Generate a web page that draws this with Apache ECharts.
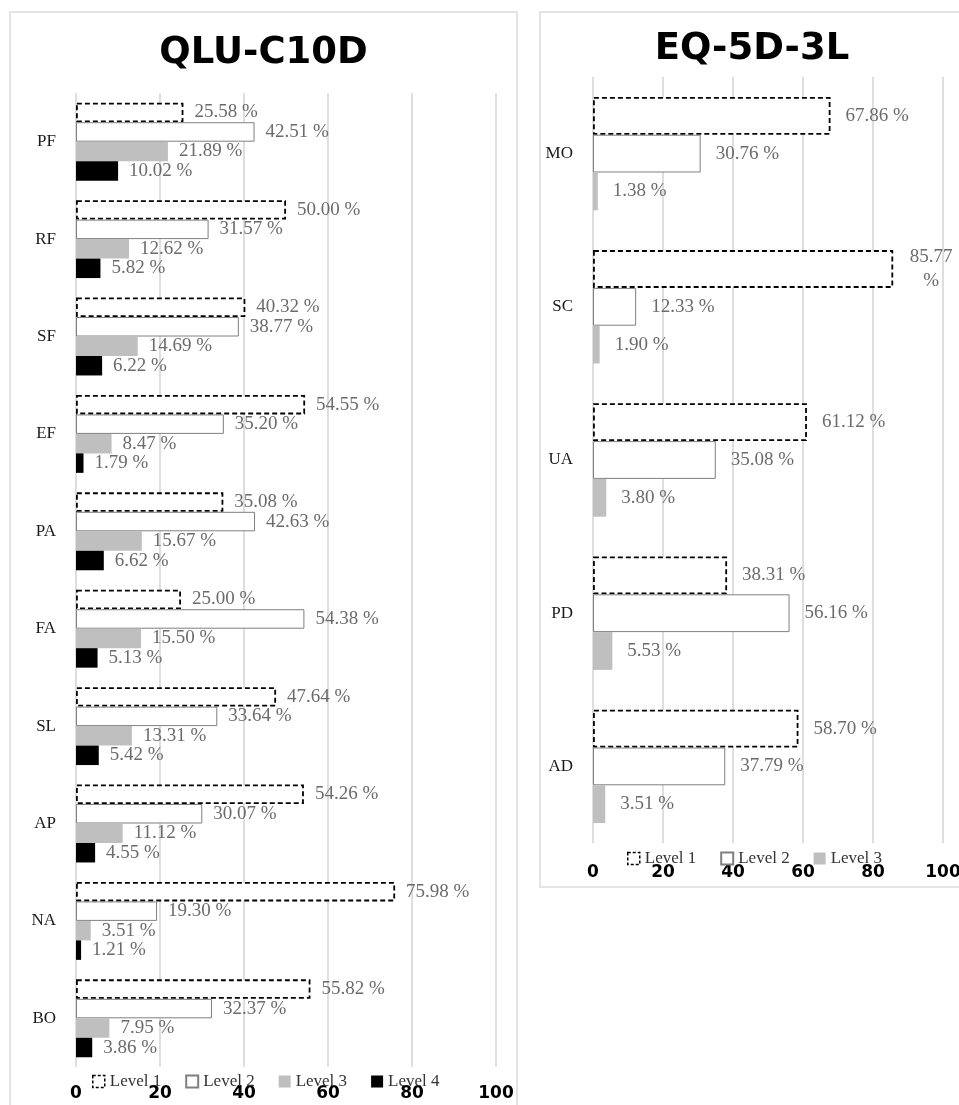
<!DOCTYPE html>
<html>
<head>
<meta charset="utf-8">
<title>QLU-C10D / EQ-5D-3L</title>
<script src="https://cdn.jsdelivr.net/npm/echarts@6/dist/echarts.min.js"></script>
<style>
  body { margin: 0; background: #fff; width: 959px; height: 1105px; overflow: hidden; position: relative; }
  .box { position: absolute; border: 2px solid #e4e4e4; box-sizing: border-box; }
  .chart { position: absolute; }
</style>
</head>
<body>
<div class="box" style="left:9px;top:11px;width:509px;height:1110px"></div>
<div class="box" style="left:539px;top:11px;width:430px;height:877px"></div>
<div id="left" class="chart" style="left:10px;top:12px;width:507px;height:1093px"></div>
<div id="right" class="chart" style="left:540px;top:12px;width:424px;height:876px"></div>

<script>
// QLU-C10D 各维度
const qluCategories = ['PF', 'RF', 'SF', 'EF', 'PA', 'FA', 'SL', 'AP', 'NA', 'BO']
const qluLevel1 = [25.58, 50.00, 40.32, 54.55, 35.08, 25.00, 47.64, 54.26, 75.98, 55.82]
const qluLevel2 = [42.51, 31.57, 38.77, 35.20, 42.63, 54.38, 33.64, 30.07, 19.30, 32.37]
const qluLevel3 = [21.89, 12.62, 14.69, 8.47, 15.67, 15.50, 13.31, 11.12, 3.51, 7.95]
const qluLevel4 = [10.02, 5.82, 6.22, 1.79, 6.62, 5.13, 5.42, 4.55, 1.21, 3.86]

// EQ-5D-3L 各维度
const eqCategories = ['MO', 'SC', 'UA', 'PD', 'AD']
const eqLevel1 = [67.86, 85.77, 61.12, 38.31, 58.70]
const eqLevel2 = [30.76, 12.33, 35.08, 56.16, 37.79]
const eqLevel3 = [1.38, 1.90, 3.80, 5.53, 3.51]

const levelNames = ['Level 1', 'Level 2', 'Level 3', 'Level 4']
const xTicks = [0, 20, 40, 60, 80, 100]

const serif = 'Liberation Serif'
const labelColor = '#6b6b6b'

// 每个等级的柱子样式
const levelStyles = [
  { color: '#fff', borderColor: '#000', borderWidth: 1.8, borderType: [5, 3] },
  { color: '#fff', borderColor: '#7f7f7f', borderWidth: 1 },
  { color: '#bfbfbf' },
  { color: '#000' }
]

function makeSeries (levels, distance, wrapBig) {
  return levels.map((data, i) => ({
    name: levelNames[i],
    type: 'bar',
    data: data,
    barGap: '0%',
    itemStyle: levelStyles[i],
    label: {
      show: true,
      position: 'right',
      distance: distance,
      color: labelColor,
      fontFamily: serif,
      fontSize: 19,
      formatter: p => {
        const s = p.value.toFixed(2)
        // 太靠右的标签换行
        if (wrapBig && p.value > 80) return '{w|' + s + '}\n{w|%}'
        return s + ' %'
      },
      rich: {
        w: { width: 46, align: 'center', lineHeight: 24, color: labelColor, fontFamily: serif, fontSize: 19 }
      }
    }
  }))
}

function makeOption (cfg) {
  // 图例：Level 1 用虚线框
  const legendData = levelNames.slice(0, cfg.levels.length).map((name, i) => (
    i === 0 ? { name: name, itemStyle: { borderType: [3, 2], borderWidth: 1.5 } } : { name: name }
  ))
  return {
    animation: false,
    title: {
      text: cfg.title,
      left: 'center',
      top: cfg.titleTop,
      textStyle: { fontFamily: 'DejaVu Sans', fontWeight: 'bold', fontSize: 37, color: '#000' }
    },
    legend: {
      data: legendData,
      icon: 'rect',
      left: cfg.legendLeft,
      top: cfg.legendTop,
      itemWidth: 12,
      itemHeight: 12,
      itemGap: 24,
      textStyle: { fontFamily: serif, fontSize: 17, color: '#333' }
    },
    grid: cfg.grid,
    xAxis: {
      type: 'value',
      min: xTicks[0],
      max: xTicks[xTicks.length - 1],
      interval: xTicks[1] - xTicks[0],
      axisLine: { show: false },
      axisTick: { show: false },
      splitLine: { lineStyle: { color: '#dedede', width: 2 } },
      axisLabel: {
        margin: cfg.labelMargin,
        fontFamily: 'DejaVu Sans',
        fontWeight: 'bold',
        fontSize: 17,
        color: '#000'
      }
    },
    yAxis: {
      type: 'category',
      inverse: true,
      data: cfg.categories,
      axisLine: { show: false },
      axisTick: { show: false },
      axisLabel: { margin: 20, fontFamily: serif, fontSize: 17, color: '#1a1a1a' }
    },
    series: makeSeries(cfg.levels, cfg.distance, cfg.wrapBig).map(s => Object.assign(s, { barCategoryGap: cfg.gap }))
  }
}

const leftChart = echarts.init(document.getElementById('left'))
leftChart.setOption(makeOption({
  title: 'QLU-C10D',
  titleTop: 18,
  categories: qluCategories,
  levels: [qluLevel1, qluLevel2, qluLevel3, qluLevel4],
  grid: { left: 66, right: 21, top: 81, bottom: 38 },
  legendLeft: 77,
  legendTop: 1056,
  labelMargin: 18,
  distance: 11,
  gap: '20%',
  wrapBig: false
}))

const rightChart = echarts.init(document.getElementById('right'))
rightChart.setOption(makeOption({
  title: 'EQ-5D-3L',
  titleTop: 14,
  categories: eqCategories,
  levels: [eqLevel1, eqLevel2, eqLevel3],
  grid: { left: 53, right: 21, top: 65, bottom: 45 },
  legendLeft: 82,
  legendTop: 833,
  labelMargin: 21,
  distance: 15,
  gap: '26%',
  wrapBig: true
}))
</script>
</body>
</html>
